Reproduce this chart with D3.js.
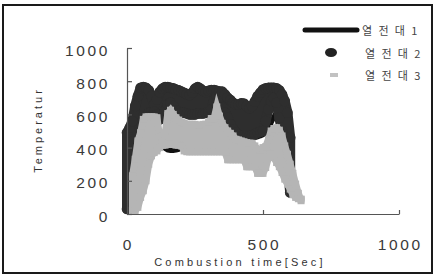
<!DOCTYPE html>
<html><head><meta charset="utf-8">
<script src="https://cdn.jsdelivr.net/npm/d3@7"></script>
<style>body{margin:0;background:#fff}</style>
</head><body>
<svg id="c" width="434" height="276"></svg>
<script>
// ---- data ----
const xTicks = [0, 500, 1000];
const yTicks = [0, 200, 400, 600, 800, 1000];
const seriesNames = ["열 전 대 1", "열 전 대 2", "열 전 대 3"];
const xTitle = "Combustion time[Sec]";
const yTitle = "Temperatur";

// series 1 (thick black line)
const t1 = [0,10,20,30,40,50,60,70,80,90,100,110,120,130,140,150,160,170,180,190,200,210,220,230,240,250,260,270,280,290,300,310,320,330,340,350,360,370,380,390,400,410,420,430,440,450,460,470,480,490,500,510,520,530,540,550,560,570,580,590,600,610,620,630,640];
const s1 = [20,300,480,540,560,560,540,500,450,430,420,415,415,410,395,385,383,383,385,390,400,410,410,405,410,410,410,410,412,412,412,414,416,418,420,422,425,430,435,440,440,442,445,448,450,452,455,460,465,470,478,490,520,550,585,615,635,610,540,430,320,230,160,110,90];

// series 2 (dark circle markers) - upper / lower envelope of the dense readings
const t2 = [0,10,20,30,40,50,60,70,80,90,100,110,120,130,140,150,160,170,180,190,200,210,220,230,240,250,260,270,280,290,300,310,320,330,340,350,360,370,380,390,400,410,420,430,440,450,460,470,480,490,500,510,520,530,540,550,560,570,580,590,600];
const s2Hi = [490,520,560,650,710,760,765,760,745,710,660,690,735,755,765,765,760,757,750,745,737,730,722,717,730,755,765,755,742,735,742,747,747,742,738,737,720,700,687,670,658,660,667,665,650,637,650,677,710,730,750,757,760,760,760,757,745,720,680,610,460];
const s2Lo = [30,30,30,200,350,450,520,580,610,615,615,600,570,580,620,660,670,650,625,615,610,610,605,600,600,600,605,605,605,610,615,630,680,710,700,640,610,580,540,510,490,475,470,470,470,470,475,480,490,495,500,560,630,680,700,670,580,500,400,280,130];

// series 3 (grey square markers) - upper / lower envelope
const t3 = [20,30,40,50,60,70,80,90,100,110,120,130,140,150,160,170,180,190,200,210,220,230,240,250,260,270,280,290,300,310,320,330,340,350,360,370,380,390,400,410,420,430,440,450,460,470,480,490,500,510,520,530,540,550,560,570,580,590,600,610,620,630,640];
const s3Hi = [230,330,440,490,570,585,585,585,585,580,465,470,480,605,625,600,580,566,555,548,540,540,540,540,535,535,540,540,555,575,575,645,590,546,520,500,486,470,450,446,440,435,430,426,426,410,390,386,400,406,450,500,515,520,505,470,410,360,300,245,180,125,80];
const s3Lo = [20,20,40,100,140,200,300,350,370,380,400,415,415,420,420,420,415,415,410,380,375,375,375,375,375,375,375,375,375,375,375,375,375,375,375,327,327,327,327,327,327,327,285,285,285,285,245,245,245,280,340,363,340,310,285,250,210,180,150,116,100,92,90];

// ---- chart ----
const svg = d3.select("#c");
const x = d3.scaleLinear().domain([0, 1000]).range([127, 399]);
const y = d3.scaleLinear().domain([0, 1000]).range([214, 48]);

svg.append("rect").attr("x", 3).attr("y", 5).attr("width", 429).attr("height", 268)
  .attr("fill", "#fff").attr("stroke", "#1a1a1a").attr("stroke-width", 2);

const plot = svg.append("g");

// series 1 line
plot.append("path")
  .datum(t1.map((t, i) => [t, s1[i]]))
  .attr("fill", "none").attr("stroke", "#111").attr("stroke-width", 5)
  .attr("stroke-linejoin", "round")
  .attr("d", d3.line().x(d => x(d[0])).y(d => y(d[1])));

// series 2 band + circle markers (marker radius 5)
const dark = "#2e2e2e";
const d2 = t2.map((t, i) => ({t, hi: s2Hi[i], lo: s2Lo[i]}));
plot.append("path").datum(d2).attr("fill", dark)
  .attr("stroke", dark).attr("stroke-width", 10).attr("stroke-linejoin", "round")
  .attr("d", d3.area().x(d => x(d.t)).y0(d => y(d.lo)).y1(d => y(d.hi)));
const c2 = d2.flatMap(d => [{t: d.t, v: d.hi}, {t: d.t, v: d.lo}]);
plot.selectAll(".m2").data(c2).join("circle").attr("class", "m2")
  .attr("cx", d => x(d.t)).attr("cy", d => y(d.v)).attr("r", 5.3)
  .attr("fill", dark);

// series 3 band + square markers (size 7)
const grey = "#b5b5b5";
const d3s = t3.map((t, i) => ({t, hi: s3Hi[i], lo: s3Lo[i]}));
plot.append("path").datum(d3s).attr("fill", grey)
  .attr("stroke", grey).attr("stroke-width", 7).attr("stroke-linejoin", "miter")
  .attr("d", d3.area().x(d => x(d.t)).y0(d => y(d.lo)).y1(d => y(d.hi)));
const c3 = d3s.flatMap(d => [{t: d.t, v: d.hi}, {t: d.t, v: d.lo}]);
plot.selectAll(".m3").data(c3).join("rect").attr("class", "m3")
  .attr("x", d => x(d.t) - 3.5).attr("y", d => y(d.v) - 3.5)
  .attr("width", 7).attr("height", 7).attr("fill", grey);

// axes
const axCol = "#555";
const gy = svg.append("g").attr("transform", `translate(${x(0)},0)`)
  .call(d3.axisLeft(y).tickValues(yTicks).tickSize(-5).tickSizeOuter(0).tickFormat(""));
const gx = svg.append("g").attr("transform", `translate(0,${y(0)})`)
  .call(d3.axisBottom(x).tickValues([500, 1000]).tickSize(-4).tickSizeOuter(0).tickFormat(""));
[gy, gx].forEach(g => {
  g.selectAll("path,line").attr("stroke", axCol).attr("stroke-width", 1.2);
});

const font = "'Liberation Sans', Arial, sans-serif";
// y tick labels
svg.selectAll(".yl").data(yTicks).join("text").attr("class", "yl")
  .attr("x", 110).attr("y", d => y(d) + 2)
  .attr("text-anchor", "end").attr("dominant-baseline", "central")
  .attr("font-family", font).attr("font-size", 15.5).attr("letter-spacing", 2.6)
  .attr("fill", "#3a3a3a").text(d => d);
// x tick labels
svg.selectAll(".xl").data(xTicks).join("text").attr("class", "xl")
  .attr("x", d => x(d) + 1.3).attr("y", 244)
  .attr("text-anchor", "middle").attr("dominant-baseline", "central")
  .attr("font-family", font).attr("font-size", 15.5).attr("letter-spacing", 2.6)
  .attr("fill", "#3a3a3a").text(d => d);

// axis titles
svg.append("text").attr("x", 240).attr("y", 262)
  .attr("text-anchor", "middle").attr("dominant-baseline", "central")
  .attr("font-family", font).attr("font-size", 11).attr("letter-spacing", 3.2)
  .attr("fill", "#333").text(xTitle);
svg.append("text").attr("transform", "translate(38,130) rotate(-90)")
  .attr("text-anchor", "middle").attr("dominant-baseline", "central")
  .attr("font-family", font).attr("font-size", 11).attr("letter-spacing", 3)
  .attr("fill", "#333").text(yTitle);

// legend
const lg = svg.append("g");
lg.append("line").attr("x1", 305).attr("x2", 357).attr("y1", 30).attr("y2", 30)
  .attr("stroke", "#111").attr("stroke-width", 5).attr("stroke-linecap", "round");
lg.append("ellipse").attr("cx", 331).attr("cy", 52.5).attr("rx", 6).attr("ry", 4.5).attr("fill", "#222");
lg.append("rect").attr("x", 330).attr("y", 73).attr("width", 8).attr("height", 4).attr("fill", "#c2c2c2");
const ly = [30, 52.5, 75];
const lx = [362, 365, 365];
lg.selectAll("text").data(seriesNames).join("text")
  .attr("x", (d, i) => lx[i]).attr("y", (d, i) => ly[i])
  .attr("dominant-baseline", "central")
  .attr("font-family", "'Noto Sans CJK KR', 'Noto Sans', sans-serif")
  .attr("font-size", 11).attr("letter-spacing", 1.9)
  .attr("fill", "#444").text(d => d);
</script>
</body></html>
